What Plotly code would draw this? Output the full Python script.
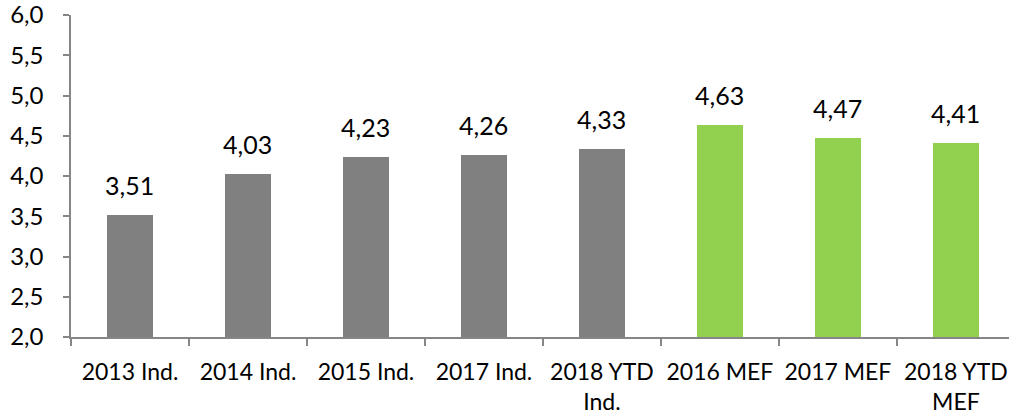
import plotly.graph_objects as go

categories = ["2013 Ind.", "2014 Ind.", "2015 Ind.", "2017 Ind.", "2018 YTD<br>Ind.",
              "2016 MEF", "2017 MEF", "2018 YTD<br>MEF"]
values = [3.51, 4.03, 4.23, 4.26, 4.33, 4.63, 4.47, 4.41]
colors = ["#808080"] * 5 + ["#92D050"] * 3

FONT = "Lato"
fig = go.Figure()
fig.add_trace(go.Bar(
    x=categories, y=values, marker=dict(color=colors, line=dict(width=0)),
    width=0.395,
))
for c, v in zip(categories, values):
    fig.add_annotation(x=c, y=v, text=f"{v:.2f}".replace(".", ","), showarrow=False,
                       yanchor="bottom", yshift=13,
                       font=dict(family=FONT, size=25, color="#000000"))

fig.update_layout(
    width=1009, height=419,
    margin=dict(l=71, r=0, t=15, b=82, autoexpand=False),
    plot_bgcolor="white", paper_bgcolor="white",
    separators=", ",
    showlegend=False,
    font=dict(family=FONT, size=23, color="#000000"),
    bargap=0,
)
fig.update_xaxes(
    type="category", range=[-0.5, 7.45],
    showline=True, linecolor="#868686", linewidth=1.5,
    ticks="outside", tickson="boundaries", ticklen=7, tickcolor="#868686", tickwidth=1.5,
    showgrid=False, ticklabelstandoff=14, automargin=False, ticklabeloverflow="allow",
    tickfont=dict(family=FONT, size=23, color="#000000"),
)
fig.update_yaxes(
    range=[2.0, 6.0], tickvals=[2.0, 2.5, 3.0, 3.5, 4.0, 4.5, 5.0, 5.5, 6.0],
    tickformat=".1f",
    showline=True, linecolor="#868686", linewidth=1.5,
    ticks="outside", ticklen=6, tickcolor="#868686", tickwidth=1.5,
    showgrid=False, zeroline=False, ticklabelstandoff=15, automargin=False,
    ticklabeloverflow="allow",
    tickfont=dict(family=FONT, size=24, color="#000000"),
)
fig.write_html("out.html", config={"displayModeBar": False},
               post_script="document.body.style.margin='0';document.body.style.overflow='hidden';")
